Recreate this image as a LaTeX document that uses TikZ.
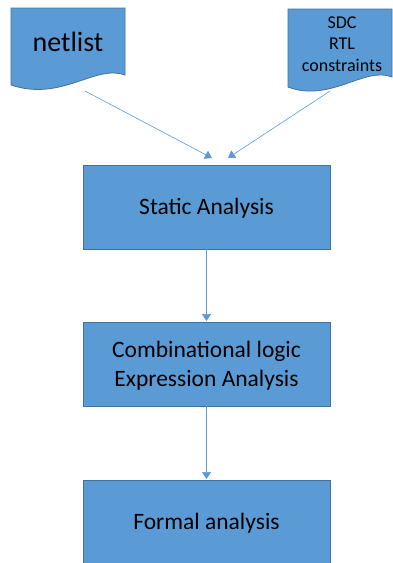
\documentclass[tikz,border=0pt]{standalone}
\usepackage{fontspec}
\setmainfont{Carlito}
\usetikzlibrary{arrows.meta}
\definecolor{boxfill}{HTML}{5B9BD5}
\definecolor{boxline}{HTML}{41719C}
\definecolor{flow}{HTML}{5B9BD5}
\tikzset{
  stage/.style={draw=boxline, fill=boxfill, line width=0.8pt},
  doc/.style={draw=boxline, fill=boxfill, line width=0.8pt},
  flowarrow/.style={draw=flow, line width=0.6pt, -{Triangle[width=9pt,length=7pt]}},
  label/.style={inner sep=0pt, font=\fontsize{23.5}{29}\selectfont, text=black, align=center}
}
\begin{document}
\begin{tikzpicture}[x=1pt,y=-1pt]
  \useasboundingbox (0,0) rectangle (392,563);
  % input documents
  \path[doc] (11,8) -- (125,8) -- (125,75)
    .. controls (95,64) and (62,102) .. (11,85) -- cycle;
  \node[label, font=\fontsize{28}{32}\selectfont] (netlist) at (68,42) {netlist};
  \path[doc] (288,9) -- (392,9) -- (392,77)
    .. controls (365,66) and (330,103) .. (288,87) -- cycle;
  \node[label, font=\fontsize{18}{21.5}\selectfont] (sdc) at (342,44) {SDC\\RTL\\constraints};
  \coordinate (netout) at (85,91);
  \coordinate (sdcout) at (330,91);
  % processing stages
  \path[stage] (83,165) rectangle (330,249);
  \node[label] (static) at (206.5,208) {Static Analysis};
  \path[stage] (83,322) rectangle (330,406);
  \node[label] (comb) at (206.5,366) {Combinational logic\\Expression Analysis};
  \path[stage] (83,480) rectangle (330,575);
  \node[label] (formal) at (206.5,523) {Formal analysis};
  \coordinate (staticin1) at (212,158);
  \coordinate (staticin2) at (228,158);
  \coordinate (staticout) at (206.5,249);
  \coordinate (combin) at (206.5,321);
  \coordinate (combout) at (206.5,406);
  \coordinate (formalin) at (206.5,479);
  % connectors
  \draw[flowarrow] (netout) -- (staticin1);
  \draw[flowarrow] (sdcout) -- (staticin2);
  \draw[flowarrow] (staticout) -- (combin);
  \draw[flowarrow] (combout) -- (formalin);
\end{tikzpicture}
\end{document}
